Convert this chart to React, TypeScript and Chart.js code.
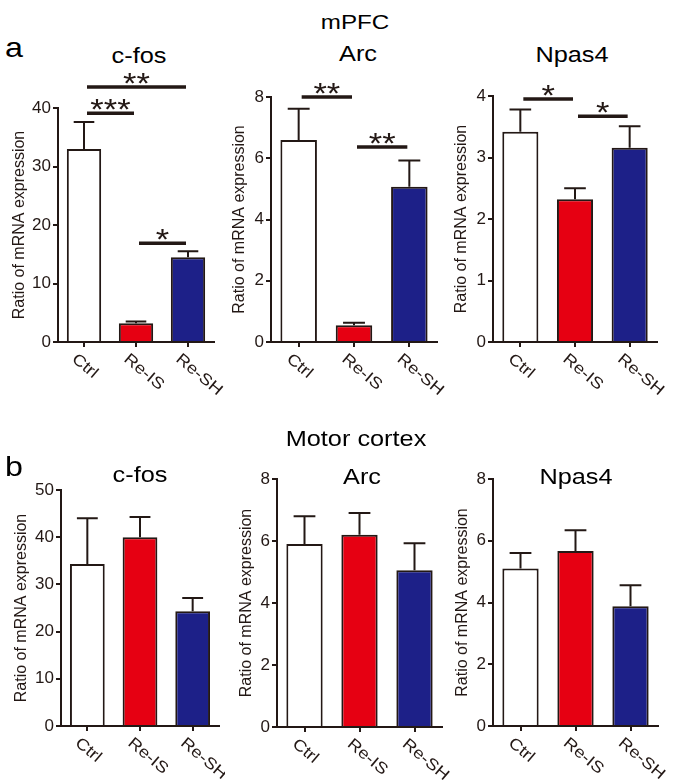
import React, { useEffect, useRef } from "react";
import { Chart, registerables } from "chart.js";

Chart.register(...registerables);

// ---------- data ----------
const categories = ["Ctrl", "Re-IS", "Re-SH"];
const barColors = ["#ffffff", "#e60012", "#1d2088"];

// mPFC
const mpfcCfos = [33.0, 3.2, 14.5];
const mpfcCfosSem = [4.6, 0.3, 1.0];
const mpfcArc = [6.6, 0.55, 5.07];
const mpfcArcSem = [1.02, 0.08, 0.86];
const mpfcNpas4 = [3.42, 2.32, 3.16];
const mpfcNpas4Sem = [0.36, 0.18, 0.35];

// Motor cortex
const motorCfos = [34.3, 40.0, 24.3];
const motorCfosSem = [9.7, 4.3, 2.8];
const motorArc = [5.9, 6.2, 5.06];
const motorArcSem = [0.9, 0.7, 0.87];
const motorNpas4 = [5.1, 5.67, 3.88];
const motorNpas4Sem = [0.5, 0.67, 0.68];

// significance brackets: [fromIndex, toIndex, value, label]
const mpfcCfosSig = [
  [0, 2, 43.6, "**"],
  [0, 1, 39.1, "***"],
  [1, 2, 16.9, "*"],
];
const mpfcArcSig = [
  [0, 1, 8.0, "**"],
  [1, 2, 6.37, "**"],
];
const mpfcNpas4Sig = [
  [0, 1, 3.95, "*"],
  [1, 2, 3.67, "*"],
];

// y-axis ranges [max, step]
const mpfcCfosAxis = [40, 10];
const mpfcArcAxis = [8, 2];
const mpfcNpas4Axis = [4, 1];
const motorCfosAxis = [50, 10];
const motorArcAxis = [8, 2];
const motorNpas4Axis = [8, 2];

const yTitle = "Ratio of mRNA expression";

// ---------- style ----------
const INK = "#231815";
const FONT = "Arial, 'Liberation Sans', Helvetica, sans-serif";

type PanelLayout = {
  left: number; top: number; width: number; height: number;
  areaLeft: number; areaRight: number; areaTop: number; areaBottom: number;
  titleX: number;
};

type PanelDef = {
  values: number[];
  sem: number[];
  sig: any[];
  axis: number[];
  layout: PanelLayout;
};

const panels: PanelDef[] = [
  { values: mpfcCfos, sem: mpfcCfosSem, sig: mpfcCfosSig, axis: mpfcCfosAxis,
    layout: { left: 0, top: 70, width: 225, height: 330, areaLeft: 58, areaRight: 214, areaTop: 108, areaBottom: 342, titleX: 19 } },
  { values: mpfcArc, sem: mpfcArcSem, sig: mpfcArcSig, axis: mpfcArcAxis,
    layout: { left: 225, top: 70, width: 225, height: 330, areaLeft: 271, areaRight: 437, areaTop: 97, areaBottom: 342, titleX: 239 } },
  { values: mpfcNpas4, sem: mpfcNpas4Sem, sig: mpfcNpas4Sig, axis: mpfcNpas4Axis,
    layout: { left: 450, top: 70, width: 225, height: 330, areaLeft: 493, areaRight: 657, areaTop: 96, areaBottom: 342, titleX: 461 } },
  { values: motorCfos, sem: motorCfosSem, sig: [], axis: motorCfosAxis,
    layout: { left: 0, top: 440, width: 225, height: 343, areaLeft: 61, areaRight: 219, areaTop: 490, areaBottom: 726, titleX: 21 } },
  { values: motorArc, sem: motorArcSem, sig: [], axis: motorArcAxis,
    layout: { left: 225, top: 440, width: 225, height: 343, areaLeft: 277, areaRight: 442, areaTop: 479, areaBottom: 727, titleX: 246 } },
  { values: motorNpas4, sem: motorNpas4Sem, sig: [], axis: motorNpas4Axis,
    layout: { left: 450, top: 440, width: 225, height: 343, areaLeft: 493, areaRight: 658, areaTop: 479, areaBottom: 726, titleX: 462 } },
];

const texts = [
  { text: "mPFC", x: 355, baseline: 29, size: 21, align: "center" },
  { text: "a", x: 5, baseline: 58, size: 28, align: "left" },
  { text: "c-fos", x: 139, baseline: 64, size: 22, align: "center" },
  { text: "Arc", x: 358, baseline: 62, size: 22, align: "center" },
  { text: "Npas4", x: 572, baseline: 63, size: 22, align: "center" },
  { text: "Motor cortex", x: 356, baseline: 447, size: 22, align: "center" },
  { text: "b", x: 5, baseline: 477, size: 28, align: "left" },
  { text: "c-fos", x: 140, baseline: 483, size: 22, align: "center" },
  { text: "Arc", x: 362, baseline: 485, size: 22, align: "center" },
  { text: "Npas4", x: 576, baseline: 485, size: 22, align: "center" },
];

const STRETCH = 1.15;

const extrasPlugin = {
  id: "panelExtras",
  afterDatasetsDraw(chart: any, _args: any, opts: any) {
    const { ctx, chartArea } = chart;
    const xs = chart.scales.x;
    const ys = chart.scales.y;
    const meta = chart.getDatasetMeta(0);
    const vals = chart.data.datasets[0].data as number[];
    const sem: number[] = opts.sem || [];
    const sig: any[] = opts.sig || [];

    ctx.save();
    // error bars
    ctx.strokeStyle = INK;
    ctx.lineWidth = 2;
    meta.data.forEach((bar: any, i: number) => {
      const top = ys.getPixelForValue(vals[i]);
      const et = ys.getPixelForValue(vals[i] + sem[i]);
      const hw = bar.width * 0.3;
      ctx.beginPath();
      ctx.moveTo(bar.x, top);
      ctx.lineTo(bar.x, et);
      ctx.moveTo(bar.x - hw, et);
      ctx.lineTo(bar.x + hw, et);
      ctx.stroke();
    });

    // x labels, rotated clockwise
    ctx.fillStyle = INK;
    ctx.font = `16px ${FONT}`;
    ctx.textAlign = "left";
    ctx.textBaseline = "top";
    (chart.data.labels as string[]).forEach((lab: string, i: number) => {
      const px = xs.getPixelForValue(i);
      ctx.save();
      ctx.translate(px - 5, chartArea.bottom + 9);
      ctx.rotate((40 * Math.PI) / 180);
      ctx.scale(STRETCH, 1);
      ctx.fillText(lab, 0, 0);
      ctx.restore();
    });

    // significance brackets
    sig.forEach((s: any) => {
      const x1 = xs.getPixelForValue(s[0]) + 3;
      const x2 = xs.getPixelForValue(s[1]) - 2;
      const py = ys.getPixelForValue(s[2]);
      ctx.beginPath();
      ctx.lineWidth = 3.5;
      ctx.strokeStyle = INK;
      ctx.moveTo(x1, py);
      ctx.lineTo(x2, py);
      ctx.stroke();
      ctx.save();
      ctx.font = `30px ${FONT}`;
      ctx.textAlign = "center";
      ctx.textBaseline = "alphabetic";
      ctx.translate((x1 + x2) / 2, py + 6);
      ctx.scale(STRETCH, 1);
      ctx.fillText(s[3], 0, 0);
      ctx.restore();
    });
    ctx.restore();
  },
};

function Panel({ def }: { def: PanelDef }) {
  const ref = useRef<HTMLCanvasElement | null>(null);
  useEffect(() => {
    const L = def.layout;
    const yWidth = L.areaLeft - L.left;
    const xHeight = L.top + L.height - L.areaBottom;
    const padTop = L.areaTop - L.top;
    const padRight = L.left + L.width - L.areaRight;
    const titlePad = Math.max(0, L.titleX - L.left - 9);
    const chart = new Chart(ref.current as HTMLCanvasElement, {
      type: "bar",
      data: {
        labels: categories,
        datasets: [
          {
            data: def.values,
            backgroundColor: barColors,
            borderColor: INK,
            borderWidth: 2,
            borderSkipped: "start",
            barPercentage: 0.66,
            categoryPercentage: 1,
          },
        ],
      },
      options: {
        animation: false,
        responsive: false,
        maintainAspectRatio: false,
        events: [],
        layout: { padding: { left: 0, top: padTop, right: padRight, bottom: 0 } },
        plugins: {
          legend: { display: false },
          tooltip: { enabled: false },
          panelExtras: { sem: def.sem, sig: def.sig },
        } as any,
        scales: {
          x: {
            type: "category",
            offset: true,
            grid: { offset: false, drawOnChartArea: false, drawTicks: true, tickLength: 5, color: INK, lineWidth: 2 },
            border: { display: true, color: INK, width: 2 },
            ticks: { display: false },
            afterFit: (s: any) => { s.height = xHeight; },
          },
          y: {
            min: 0,
            max: def.axis[0],
            ticks: { stepSize: def.axis[1], color: INK, font: { family: FONT, size: 17 }, padding: 2 },
            grid: { drawOnChartArea: false, drawTicks: true, tickLength: 5, color: INK, lineWidth: 2 },
            border: { display: true, color: INK, width: 2 },
            title: {
              display: true,
              text: yTitle,
              color: INK,
              font: { family: FONT, size: 16 },
              padding: { top: titlePad, bottom: 0 },
            },
            afterFit: (s: any) => { s.width = yWidth; },
          },
        },
      } as any,
      plugins: [extrasPlugin],
    });
    return () => chart.destroy();
  }, [def]);
  const L = def.layout;
  return (
    <canvas
      ref={ref}
      width={L.width}
      height={L.height}
      style={{ position: "absolute", left: L.left, top: L.top, width: L.width, height: L.height }}
    />
  );
}

export default function App() {
  return (
    <div style={{ position: "fixed", left: 0, top: 0, width: 675, height: 783, background: "#fff", overflow: "hidden" }}>
      {panels.map((p, i) => (
        <Panel key={i} def={p} />
      ))}
      {texts.map((t, i) => (
        <div
          key={"t" + i}
          style={{
            position: "absolute",
            left: t.x,
            top: t.baseline - 0.8465 * t.size,
            fontFamily: FONT,
            fontSize: t.size,
            lineHeight: `${t.size}px`,
            color: "#000",
            whiteSpace: "nowrap",
            transformOrigin: t.align === "center" ? "50% 50%" : "0 50%",
            transform: t.align === "center" ? `translateX(-50%) scaleX(${STRETCH})` : `scaleX(${STRETCH})`,
          }}
        >
          {t.text}
        </div>
      ))}
    </div>
  );
}
